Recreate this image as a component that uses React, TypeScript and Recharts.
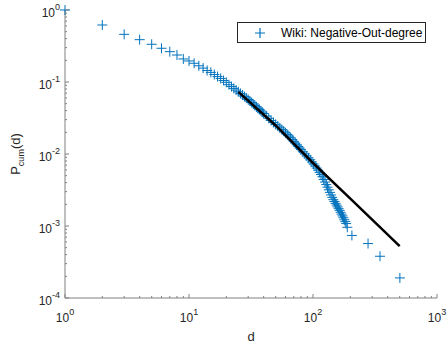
import React from 'react';
import { ComposedChart, Scatter, Line, XAxis, YAxis, Legend } from 'recharts';

// ---- data ----
const degree = [
  1, 2, 3, 4, 5, 6, 7, 8, 9, 10,
  11, 12, 13, 14, 15, 16, 17, 18, 19, 20,
  21, 22, 23, 24, 25, 26, 27, 28, 29, 30,
  31, 32, 33, 34, 35, 36, 37, 38, 39, 40,
  42, 44, 46, 48, 50, 52, 54, 56, 58, 60,
  62, 64, 66, 68, 70, 72, 74, 76, 78, 80,
  83, 86, 89, 92, 95, 98, 101, 104, 107, 110,
  113, 116, 119, 122, 125, 128, 131, 134, 137, 140,
  143, 146, 149, 152, 155, 158, 161, 164, 167, 170,
  173, 176, 179, 182, 185, 189, 206, 278, 347, 502,
];
const pcum = [
  1, 0.619, 0.459, 0.387, 0.334, 0.294, 0.264, 0.237, 0.209, 0.196,
  0.182, 0.168, 0.156, 0.1445, 0.136, 0.127, 0.119, 0.112, 0.105, 0.099,
  0.0916, 0.0864, 0.0815, 0.0772, 0.0731, 0.0693, 0.0659, 0.0627, 0.0598, 0.0571,
  0.0546, 0.052, 0.0495, 0.0473, 0.0452, 0.0433, 0.0415, 0.0397, 0.0381, 0.0365,
  0.0337, 0.0313, 0.0292, 0.0274, 0.0258, 0.0244, 0.0231, 0.0219, 0.0208, 0.0197,
  0.0187, 0.01776, 0.01683, 0.01587, 0.01498, 0.01417, 0.01342, 0.01273, 0.01209, 0.01151,
  0.01074, 0.01004, 0.00941, 0.00884, 0.0083, 0.00776, 0.00726, 0.0068, 0.00638, 0.00596,
  0.00556, 0.00519, 0.00483, 0.00443, 0.00408, 0.00376, 0.00346, 0.00318, 0.00293, 0.0027,
  0.0025, 0.00232, 0.00219, 0.00206, 0.00195, 0.00184, 0.00174, 0.00165, 0.00155, 0.00146,
  0.00138, 0.0013, 0.00122, 0.00115, 0.00108, 0.00096, 0.00074, 0.00057, 0.00038, 0.00019,
];
const fitDegree = [25, 50, 100, 200, 500];
const fitP = [0.0728, 0.0249, 0.0075, 0.0024, 0.000527];

const xDecades = [1, 10, 100, 1000];
const yDecades = [1e-4, 1e-3, 1e-2, 1e-1, 1];
const seriesName = 'Wiki: Negative-Out-degree';
const xLabel = 'd';

const wiki = degree.map((d, i) => ({ d, p: pcum[i] }));
const fit = fitDegree.map((d, i) => ({ d, p: fitP[i] }));

function logTicks(decades: number[]) {
  const out: number[] = [];
  decades.forEach((dec, i) => {
    out.push(dec);
    if (i < decades.length - 1) for (let m = 2; m <= 9; m++) out.push(dec * m);
  });
  return out;
}
const xTicks = logTicks(xDecades);
const yTicks = logTicks(yDecades);

const FONT = '"Liberation Sans", Arial, Helvetica, sans-serif';
const AX = '#808080';
const TX = '#262626';
const BLUE = '#0072BD';
const MAJ = 4;
const MIN = 2;

const isMajor = (v: number) => {
  const l = Math.log10(v);
  return Math.abs(l - Math.round(l)) < 1e-6;
};
const expOf = (v: number) => Math.round(Math.log10(v));

const BottomTick = (props: any) => {
  const { x, y, payload } = props;
  const v = payload.value;
  const maj = isMajor(v);
  return (
    <g>
      <line x1={x} x2={x} y1={y} y2={y - (maj ? MAJ : MIN)} stroke={AX} />
      {maj && (
        <text x={x} y={y + 24} textAnchor="middle" fontSize={12} fill={TX} fontFamily={FONT}>
          10<tspan dy={-7} fontSize={9}>{expOf(v)}</tspan>
        </text>
      )}
    </g>
  );
};
const TopTick = (props: any) => {
  const { x, y, payload } = props;
  const maj = isMajor(payload.value);
  return <line x1={x} x2={x} y1={y} y2={y + (maj ? MAJ : MIN)} stroke={AX} />;
};
const LeftTick = (props: any) => {
  const { x, y, payload } = props;
  const v = payload.value;
  const maj = isMajor(v);
  return (
    <g>
      <line x1={x} x2={x + (maj ? MAJ : MIN)} y1={y} y2={y} stroke={AX} />
      {maj && (
        <text x={x - 5} y={y + 7} textAnchor="end" fontSize={12} fill={TX} fontFamily={FONT}>
          10<tspan dy={-7} fontSize={9}>{expOf(v)}</tspan>
        </text>
      )}
    </g>
  );
};
const RightTick = (props: any) => {
  const { x, y, payload } = props;
  const maj = isMajor(payload.value);
  return <line x1={x} x2={x - (maj ? MAJ : MIN)} y1={y} y2={y} stroke={AX} />;
};

const PlusShape = (props: any) => {
  const { cx, cy } = props;
  if (cx == null || cy == null) return <g />;
  return (
    <path
      d={`M${cx - 5},${cy}H${cx + 5}M${cx},${cy - 5}V${cy + 5}`}
      stroke={BLUE}
      strokeWidth={1}
      fill="none"
    />
  );
};
const NoShape = () => <g />;

const XLabelContent = (props: any) => {
  const vb = props.viewBox || {};
  return (
    <text x={vb.x + vb.width / 2} y={vb.y + 43} textAnchor="middle" fontSize={13} fill={TX} fontFamily={FONT}>
      {xLabel}
    </text>
  );
};
const YLabelContent = (props: any) => {
  const vb = props.viewBox || {};
  const cx = 20;
  const cy = vb.y + vb.height / 2;
  return (
    <text
      x={cx}
      y={cy}
      transform={`rotate(-90 ${cx} ${cy})`}
      textAnchor="middle"
      fontSize={13}
      fill={TX}
      fontFamily={FONT}
    >
      P<tspan dy={4} fontSize={9}>cum</tspan>
      <tspan dy={-4}>(d)</tspan>
    </text>
  );
};

const LegendContent = () => (
  <div
    style={{
      boxSizing: 'border-box',
      width: 189,
      height: 21,
      border: '1px solid #262626',
      background: '#fff',
      position: 'relative',
      fontFamily: FONT,
      fontSize: 12,
      color: '#000',
    }}
  >
    <svg width={12} height={12} style={{ position: 'absolute', left: 16, top: 4 }}>
      <path d="M1,6H11M6,1V11" stroke={BLUE} strokeWidth={1.2} fill="none" />
    </svg>
    <span style={{ position: 'absolute', left: 43, top: 3, lineHeight: '14px', whiteSpace: 'nowrap' }}>
      {seriesName}
    </span>
  </div>
);

export default function App() {
  const lineProps: any = { zIndex: 700 };
  return (
    <div style={{ position: 'absolute', left: 0, top: 0, width: 447, height: 349, background: '#fff' }}>
      <ComposedChart
        width={447}
        height={349}
        margin={{ top: 10, right: 10, left: 0, bottom: 0 }}
      >
        <XAxis
          xAxisId="b"
          dataKey="d"
          type="number"
          scale="log"
          domain={[1, 1000]}
          ticks={xTicks}
          interval={0}
          tick={<BottomTick />}
          tickSize={0}
          tickMargin={0}
          tickLine={false}
          axisLine={{ stroke: AX }}
          height={51}
          label={{ content: <XLabelContent /> } as any}
        />
        <XAxis
          xAxisId="t"
          orientation="top"
          dataKey="d"
          type="number"
          scale="log"
          domain={[1, 1000]}
          ticks={xTicks}
          interval={0}
          tick={<TopTick />}
          tickSize={0}
          tickMargin={0}
          tickLine={false}
          axisLine={{ stroke: AX }}
          height={0}
        />
        <YAxis
          yAxisId="l"
          dataKey="p"
          type="number"
          scale="log"
          domain={[1e-4, 1]}
          ticks={yTicks}
          interval={0}
          tick={<LeftTick />}
          tickSize={0}
          tickMargin={0}
          tickLine={false}
          axisLine={{ stroke: AX }}
          width={65}
          label={{ content: <YLabelContent /> } as any}
        />
        <YAxis
          yAxisId="r"
          orientation="right"
          dataKey="p"
          type="number"
          scale="log"
          domain={[1e-4, 1]}
          ticks={yTicks}
          interval={0}
          tick={<RightTick />}
          tickSize={0}
          tickMargin={0}
          tickLine={false}
          axisLine={{ stroke: AX }}
          width={0}
        />
        <Scatter
          xAxisId="b"
          yAxisId="l"
          name={seriesName}
          data={wiki}
          dataKey="p"
          shape={<PlusShape />}
          isAnimationActive={false}
        />
        <Scatter
          xAxisId="t"
          yAxisId="r"
          data={wiki}
          dataKey="p"
          shape={<NoShape />}
          legendType="none"
          isAnimationActive={false}
        />
        <Line
          xAxisId="b"
          yAxisId="l"
          data={fit}
          dataKey="p"
          type="linear"
          stroke="#000"
          strokeWidth={2.5}
          dot={false}
          activeDot={false}
          legendType="none"
          isAnimationActive={false}
          {...lineProps}
        />
        <Legend
          content={<LegendContent />}
          layout="horizontal"
          verticalAlign="middle"
          align="center"
          wrapperStyle={{ position: 'absolute', left: 237, top: 22, width: 189, height: 21 }}
        />
      </ComposedChart>
    </div>
  );
}
